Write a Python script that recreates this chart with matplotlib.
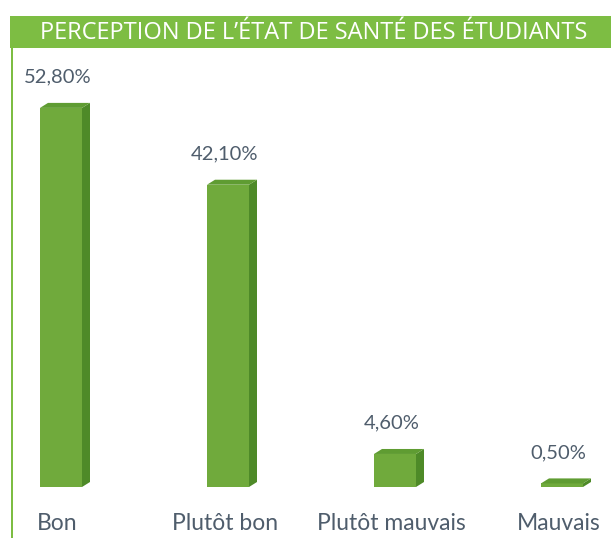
import matplotlib
matplotlib.use("Agg")
import matplotlib.pyplot as plt
from matplotlib.patches import Rectangle, Polygon

categories = ["Bon", "Plutôt bon", "Plutôt mauvais", "Mauvais"]
values = [52.8, 42.1, 4.6, 0.5]
value_labels = ["52,80%", "42,10%", "4,60%", "0,50%"]
title = "PERCEPTION DE L\u2019ÉTAT DE SANTÉ DES ÉTUDIANTS"

W, H = 611, 538
front = "#70aa3c"
side = "#4e8a28"
top = "#5f9c32"
banner = "#7dbd43"
txt = "#4f5d6c"

fig = plt.figure(figsize=(W / 100, H / 100), dpi=100)
fig.patch.set_facecolor("white")

# pixel geometry of the plot
x0_px, step_px = 61, 167
base_px, px_per_unit = 487, 7.18
ax = fig.add_axes([0, 0, 1, 1])
ax.set_xlim(-x0_px / step_px, (W - x0_px) / step_px)
ax.set_ylim(-(H - base_px) / px_per_unit, base_px / px_per_unit)
ax.axis("off")

bw = 42 / step_px
dx = 8 / step_px
dy = 5 / px_per_unit

for i, v in enumerate(values):
    l, r = i - bw / 2, i + bw / 2
    ax.bar(i, v, width=bw, color=front, edgecolor="none", zorder=2)
    ax.add_patch(Polygon([(r, 0), (r + dx, dy), (r + dx, v + dy), (r, v)],
                         closed=True, facecolor=side, edgecolor="none", zorder=2))
    ax.add_patch(Polygon([(l, v), (l + dx, v + dy), (r + dx, v + dy), (r, v)],
                         closed=True, facecolor=top, edgecolor="none", zorder=2))
    ax.text(i - 0.02, v + 31 / px_per_unit, value_labels[i], ha="center", va="center",
            fontsize=14.5, color=txt, family="Lato")
    ax.text(i - 0.02, -36 / px_per_unit, categories[i], ha="center", va="center",
            fontsize=16.5, color=txt, family="Lato")

# title banner and left rule
fig.patches.append(Rectangle((10 / W, 1 - 48 / H), 1, 32 / H, transform=fig.transFigure,
                             facecolor=banner, edgecolor="none", zorder=5))
fig.patches.append(Rectangle((11 / W, 0), 2 / W, 1 - 48 / H, transform=fig.transFigure,
                             facecolor=banner, edgecolor="none", zorder=5))
fig.text(314 / W, 1 - 33 / H, title, ha="center", va="center", color="white",
         fontsize=17, family="Open Sans", zorder=6)

fig.savefig("out.png", dpi=100, facecolor="white")
